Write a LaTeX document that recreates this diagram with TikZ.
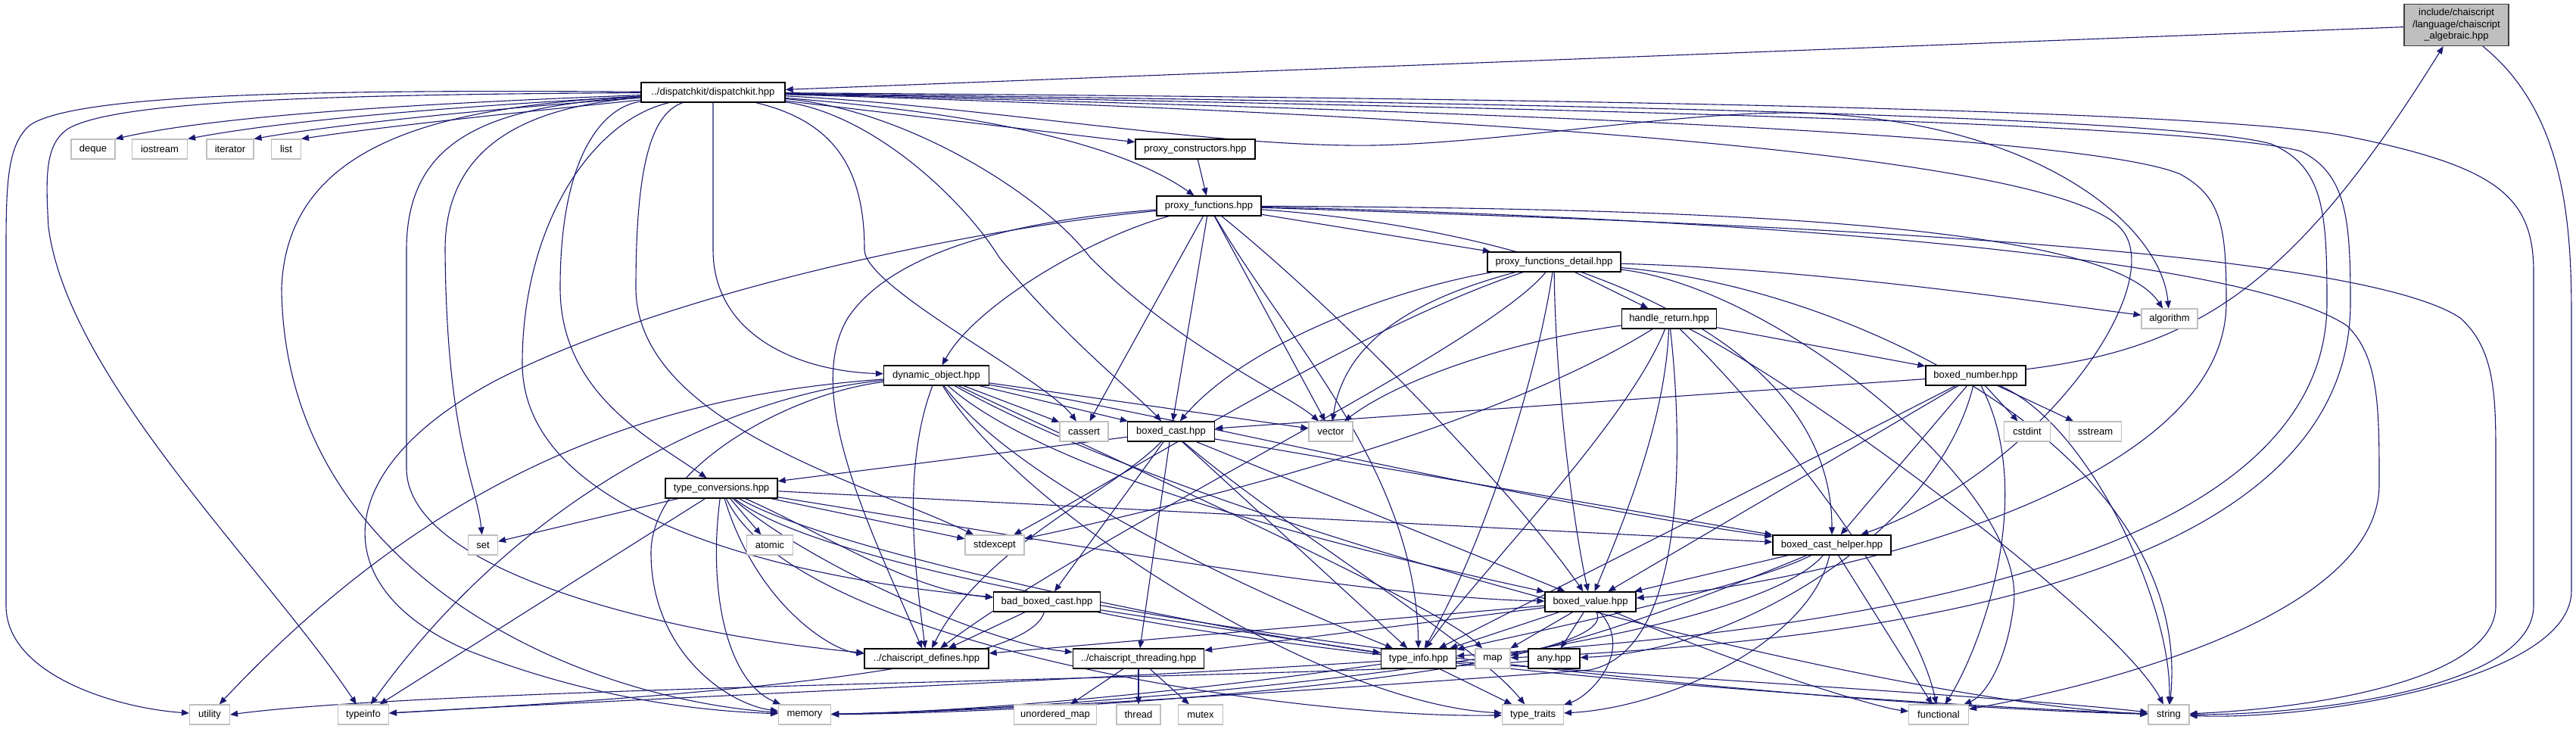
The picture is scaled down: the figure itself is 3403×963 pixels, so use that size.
\documentclass[tikz,border=0pt]{standalone}
\usepackage{fontspec}
\setmainfont{Liberation Sans}
\usetikzlibrary{arrows.meta}
\definecolor{edgec}{HTML}{191970}
\definecolor{sysb}{HTML}{BFBFBF}
\definecolor{algf}{HTML}{BFBFBF}
\pgfdeclarelayer{bg}
\pgfdeclarelayer{paper}
\pgfsetlayers{paper,bg,main}
\tikzset{
  hdr/.style={draw=black, fill=white, line width=1.3pt, font=\fontsize{13}{15}\selectfont, minimum height=26pt, inner sep=0pt},
  sysh/.style={draw=sysb, fill=white, line width=1.1pt, font=\fontsize{13}{15}\selectfont, minimum height=26pt, inner sep=0pt},
  edg/.style={draw=edgec, line width=1.1pt, -{Triangle[length=10pt,width=8pt]}, color=edgec},
}
\begin{document}
\begin{tikzpicture}[x=1pt,y=-1pt]
\useasboundingbox (0,0) rectangle (3403,963);
\begin{pgfonlayer}{paper}
\fill[white] (0,0) rectangle (3403,963);
\end{pgfonlayer}
% nodes
\node[hdr, fill=algf, draw=black!75, minimum width=138pt, minimum height=55pt, align=center, font=\fontsize{13}{15.5}\selectfont] (alg) at (3245,33) {include/chaiscript\\/language/chaiscript\\\_algebraic.hpp};
\node[hdr, minimum width=190pt] (dk) at (942,122) {../dispatchkit/dispatchkit.hpp};
\node[sysh, minimum width=58pt] (deque) at (123,197) {deque};
\node[sysh, minimum width=73pt] (iostream) at (211,197) {iostream};
\node[sysh, minimum width=62pt] (iterator) at (304,197) {iterator};
\node[sysh, minimum width=39pt] (list) at (378,197) {list};
\node[hdr, minimum width=158pt] (pc) at (1579,197) {proxy\_constructors.hpp};
\node[hdr, minimum width=138pt] (pf) at (1597,272) {proxy\_functions.hpp};
\node[hdr, minimum width=176pt] (pfd) at (2053,346) {proxy\_functions\_detail.hpp};
\node[hdr, minimum width=125pt] (hr) at (2205,421) {handle\_return.hpp};
\node[sysh, minimum width=74pt] (algorithm) at (2866,421) {algorithm};
\node[hdr, minimum width=139pt] (do) at (1237,496) {dynamic\_object.hpp};
\node[hdr, minimum width=132pt] (bn) at (2610,496) {boxed\_number.hpp};
\node[sysh, minimum width=64pt] (cassert) at (1432,570) {cassert};
\node[hdr, minimum width=115pt] (bc) at (1547,570) {boxed\_cast.hpp};
\node[sysh, minimum width=58pt] (vector) at (1758,570) {vector};
\node[sysh, minimum width=61pt] (cstdint) at (2678,570) {cstdint};
\node[sysh, minimum width=69pt] (sstream) at (2768,570) {sstream};
\node[hdr, minimum width=148pt] (tc) at (953,645) {type\_conversions.hpp};
\node[sysh, minimum width=39pt] (set) at (638,720) {set};
\node[sysh, minimum width=61pt] (atomic) at (1017,720) {atomic};
\node[sysh, minimum width=78pt] (stdexcept) at (1314,720) {stdexcept};
\node[hdr, minimum width=156pt] (bch) at (2420,720) {boxed\_cast\_helper.hpp};
\node[hdr, minimum width=141pt] (bbc) at (1383,795) {bad\_boxed\_cast.hpp};
\node[hdr, minimum width=120pt] (bv) at (2101,795) {boxed\_value.hpp};
\node[hdr, minimum width=164pt] (defines) at (1224,870) {../chaiscript\_defines.hpp};
\node[hdr, minimum width=173pt] (thr) at (1504,870) {../chaiscript\_threading.hpp};
\node[hdr, minimum width=99pt] (ti) at (1874,870) {type\_info.hpp};
\node[sysh, minimum width=46pt] (map) at (1972,870) {map};
\node[hdr, minimum width=68pt] (any) at (2053,870) {any.hpp};
\node[sysh, minimum width=53pt] (utility) at (277,944) {utility};
\node[sysh, minimum width=67pt] (typeinfo) at (480,944) {typeinfo};
\node[sysh, minimum width=69pt] (memory) at (1063,944) {memory};
\node[sysh, minimum width=109pt] (umap) at (1394,944) {unordered\_map};
\node[sysh, minimum width=58pt] (thread) at (1504,944) {thread};
\node[sysh, minimum width=59pt] (mutex) at (1586,944) {mutex};
\node[sysh, minimum width=81pt] (tt) at (2025,944) {type\_traits};
\node[sysh, minimum width=79pt] (functional) at (2561,944) {functional};
\node[sysh, minimum width=54pt] (string) at (2865,944) {string};
\begin{pgfonlayer}{bg}
% algebraic
\draw[edg] (alg) -- (dk);
\draw[edg] (alg) .. controls (3390,150) and (3397,300) .. (3397,420) -- (3397,780) .. controls (3397,900) and (3050,952) .. (string);
% dispatchkit
\draw[edg] (dk) .. controls (600,135) and (300,150) .. (deque.north east);
\draw[edg] (dk) .. controls (650,138) and (400,155) .. (iostream.north east);
\draw[edg] (dk) .. controls (700,140) and (470,160) .. (iterator.north east);
\draw[edg] (dk) .. controls (750,142) and (520,165) .. (list.north east);
\draw[edg] (dk) .. controls (400,118) and (100,125) .. (40,165) .. controls (10,190) and (8,240) .. (8,330) -- (8,800) .. controls (8,890) and (150,935) .. (utility);
\draw[edg] (dk) .. controls (400,125) and (150,135) .. (90,170) .. controls (60,190) and (60,230) .. (64,300) .. controls (90,500) and (350,750) .. (typeinfo);
\draw[edg] (dk) .. controls (600,140) and (380,180) .. (372,380) .. controls (375,750) and (750,920) .. (memory);
\draw[edg] (dk) .. controls (650,140) and (537,180) .. (537,330) -- (537,620) .. controls (540,760) and (900,840) .. (defines);
\draw[edg] (dk) .. controls (700,140) and (588,190) .. (588,330) .. controls (590,580) and (630,640) .. (set);
\draw[edg] (dk) .. controls (800,140) and (740,200) .. (740,380) .. controls (740,520) and (860,580) .. (tc);
\draw[edg] (dk) .. controls (860,150) and (840,220) .. (840,380) .. controls (840,560) and (1150,640) .. (stdexcept);
\draw[edg] (dk) -- (942,330) .. controls (942,440) and (1050,490) .. (do);
\draw[edg] (dk) .. controls (1100,160) and (1142,220) .. (1142,330) .. controls (1142,380) and (1380,500) .. (cassert);
\draw[edg] (dk) .. controls (1150,150) and (1270,260) .. (1320,340) .. controls (1400,440) and (1500,520) .. (bc);
\draw[edg] (dk) .. controls (1200,145) and (1380,260) .. (1440,340) .. controls (1560,460) and (1700,520) .. (vector);
\draw[edg] (dk) .. controls (1300,150) and (1480,190) .. (pf);
\draw[edg] (dk) -- (pc);
\draw[edg] (dk) .. controls (1300,140) and (1600,195) .. (1815,192) .. controls (2000,188) and (2250,142) .. (2400,150) .. controls (2700,165) and (2855,300) .. (algorithm);
\draw[edg] (dk) .. controls (1800,128) and (2900,140) .. (3100,180) .. controls (3300,220) and (3347,260) .. (3347,360) -- (3347,800) .. controls (3347,910) and (3050,944) .. (string);
\draw[edg] (dk) .. controls (1900,135) and (2850,150) .. (3000,190) .. controls (3070,220) and (3074,280) .. (3074,400) .. controls (3074,780) and (2300,840) .. (ti);
\draw[edg] (dk) .. controls (1900,140) and (2900,160) .. (3040,200) .. controls (3100,230) and (3105,290) .. (3105,400) .. controls (3105,790) and (2400,850) .. (map);
\draw[edg] (dk) .. controls (1900,145) and (2750,175) .. (2880,230) .. controls (2935,260) and (2941,300) .. (2941,400) .. controls (2941,650) and (2400,770) .. (bv);
\draw[edg] (dk) .. controls (1900,150) and (2700,200) .. (2800,300) .. controls (2870,370) and (2700,620) .. (bch);
\draw[edg] (dk) .. controls (780,160) and (690,300) .. (690,480) .. controls (690,700) and (1100,770) .. (bbc);
% proxy_constructors
\draw[edg] (pc) -- (pf);
% proxy_functions
\draw[edg] (pf) -- (pfd);
\draw[edg] (pf) .. controls (1450,310) and (1290,400) .. (do);
\draw[edg] (pf) -- (cassert);
\draw[edg] (pf) -- (bc);
\draw[edg] (pf) -- (vector);
\draw[edg] (pf) .. controls (2200,275) and (2780,290) .. (algorithm);
\draw[edg] (pf) .. controls (1300,300) and (900,380) .. (660,500) .. controls (430,620) and (430,780) .. (620,860) .. controls (800,930) and (950,940) .. (memory);
\draw[edg] (pf) .. controls (1350,290) and (1180,330) .. (1120,420) .. controls (1060,520) and (1150,700) .. (defines);
\draw[edg] (pf) .. controls (1700,450) and (1870,620) .. (ti);
\draw[edg] (pf) .. controls (1780,420) and (2000,650) .. (bv);
\draw[edg] (pf) .. controls (2000,300) and (2420,420) .. (bch);
\draw[edg] (pf) .. controls (2200,285) and (2950,330) .. (3100,430) .. controls (3143,470) and (3143,540) .. (3143,640) .. controls (3143,820) and (2750,910) .. (functional);
\draw[edg] (pf) .. controls (2200,292) and (3100,320) .. (3250,420) .. controls (3295,460) and (3297,520) .. (3297,600) -- (3297,800) .. controls (3297,900) and (3050,936) .. (string);
% proxy_functions_detail
\draw[edg] (pfd) -- (hr);
\draw[edg] (pfd) .. controls (1850,380) and (1650,450) .. (bc);
\draw[edg] (pfd) .. controls (1850,400) and (1775,460) .. (vector);
\draw[edg] (pfd) .. controls (1800,430) and (1500,620) .. (stdexcept);
\draw[edg] (pfd) .. controls (1960,460) and (1450,700) .. (defines);
\draw[edg] (pfd) .. controls (2055,520) and (2080,700) .. (bv);
\draw[edg] (pfd) .. controls (2030,500) and (1960,720) .. (ti);
\draw[edg] (pfd) .. controls (2400,355) and (2700,400) .. (algorithm);
\draw[edg] (pfd) .. controls (2350,380) and (2680,650) .. (2660,800) .. controls (2650,880) and (2620,920) .. (functional);
\draw[edg] (pfd) .. controls (2450,380) and (2900,600) .. (string);
% handle_return
\draw[edg] (hr) -- (bn);
\draw[edg] (hr) .. controls (2000,450) and (1850,500) .. (vector);
\draw[edg] (hr) .. controls (1950,580) and (1500,680) .. (stdexcept);
\draw[edg] (hr) .. controls (2150,560) and (1950,760) .. (ti);
\draw[edg] (hr) .. controls (2200,560) and (2140,700) .. (bv);
\draw[edg] (hr) .. controls (2225,600) and (2225,860) .. (2100,885) .. controls (1700,915) and (1300,940) .. (memory);
\draw[edg] (hr) .. controls (2350,560) and (2530,800) .. (functional);
\draw[edg] (hr) .. controls (2400,520) and (2800,820) .. (string);
% boxed_number
\draw[edg] (bn) .. controls (2900,460) and (3030,380) .. (alg);
\draw[edg] (bn) -- (bc);
\draw[edg] (bn) -- (cstdint);
\draw[edg] (bn) -- (sstream);
\draw[edg] (bn) .. controls (2760,560) and (2870,800) .. (string);
\draw[edg] (bn) -- (bch);
\draw[edg] (bn) -- (bv);
\draw[edg] (bn) -- (ti);
\draw[edg] (bn) .. controls (2560,700) and (2300,860) .. (any);
\draw[edg] (bn) .. controls (2690,650) and (2620,850) .. (functional);
% dynamic_object
\draw[edg] (do) -- (cassert);
\draw[edg] (do) -- (bc);
\draw[edg] (do) -- (vector);
\draw[edg] (do) .. controls (900,520) and (600,600) .. (utility);
\draw[edg] (do) .. controls (980,520) and (700,640) .. (typeinfo);
\draw[edg] (do) .. controls (1040,520) and (860,620) .. (860,730) .. controls (860,860) and (960,930) .. (memory);
\draw[edg] (do) .. controls (1190,620) and (1210,760) .. (defines);
\draw[edg] (do) .. controls (1600,560) and (2000,660) .. (bch);
\draw[edg] (do) .. controls (1400,640) and (1850,740) .. (bv);
\draw[edg] (do) .. controls (1350,650) and (1700,800) .. (ti);
\draw[edg] (do) .. controls (1600,700) and (2500,930) .. (string);
\draw[edg] (do) .. controls (1350,680) and (1750,930) .. (tt);
\draw[edg] (do) .. controls (1500,620) and (1900,800) .. (map);
% boxed_cast
\draw[edg] (bc) -- (tc);
\draw[edg] (bc) -- (bbc);
\draw[edg] (bc) .. controls (1470,650) and (1300,720) .. (defines);
\draw[edg] (bc) -- (thr);
\draw[edg] (bc) -- (bch);
\draw[edg] (bc) -- (bv);
\draw[edg] (bc) -- (ti);
\draw[edg] (bc) .. controls (1700,700) and (1950,850) .. (tt);
% type_conversions
\draw[edg] (tc) -- (set);
\draw[edg] (tc) -- (atomic);
\draw[edg] (tc) -- (typeinfo);
\draw[edg] (tc) .. controls (935,780) and (960,900) .. (memory);
\draw[edg] (tc) -- (stdexcept);
\draw[edg] (tc) .. controls (1080,700) and (1200,780) .. (bbc);
\draw[edg] (tc) .. controls (1060,740) and (1300,850) .. (thr);
\draw[edg] (tc) -- (bch);
\draw[edg] (tc) .. controls (1300,700) and (1800,790) .. (bv);
\draw[edg] (tc) .. controls (1100,730) and (1600,830) .. (ti);
\draw[edg] (tc) .. controls (1000,800) and (1100,860) .. (defines);
\draw[edg] (tc) .. controls (1150,800) and (2300,930) .. (string);
\draw[edg] (tc) .. controls (1050,850) and (1700,950) .. (tt);
% bad_boxed_cast
\draw[edg] (bbc) -- (defines);
\draw[edg] (bbc) .. controls (1360,880) and (1000,915) .. (typeinfo);
\draw[edg] (bbc) -- (ti);
\draw[edg] (bbc) .. controls (1800,880) and (2500,930) .. (string);
% boxed_cast_helper
\draw[edg] (bch) -- (bv);
\draw[edg] (bch) .. controls (2300,780) and (2000,840) .. (ti);
\draw[edg] (bch) .. controls (2300,860) and (1500,935) .. (memory);
\draw[edg] (bch) -- (functional);
\draw[edg] (bch) .. controls (2390,850) and (2200,935) .. (tt);
\draw[edg] (bch) .. controls (2250,790) and (2100,845) .. (map);
% boxed_value
\draw[edg] (bv) -- (defines);
\draw[edg] (bv) -- (thr);
\draw[edg] (bv) -- (ti);
\draw[edg] (bv) -- (map);
\draw[edg] (bv) -- (any);
\draw[edg] (bv) .. controls (2150,880) and (1500,940) .. (memory);
\draw[edg] (bv) .. controls (2300,880) and (2480,935) .. (functional);
\draw[edg] (bv) .. controls (2160,860) and (2100,920) .. (tt);
% type_info
\draw[edg] (ti) .. controls (1500,895) and (800,925) .. (typeinfo);
\draw[edg] (ti) .. controls (1600,910) and (1300,940) .. (memory);
\draw[edg] (ti) -- (tt);
\draw[edg] (ti) .. controls (2200,895) and (2650,920) .. (string);
% threading
\draw[edg] (thr) -- (umap);
\draw[edg] (thr) -- (thread);
\draw[edg] (thr) -- (mutex);
% any
\draw[edg] (any) .. controls (1800,895) and (600,905) .. (utility.east);
\end{pgfonlayer}
\end{tikzpicture}
\end{document}
